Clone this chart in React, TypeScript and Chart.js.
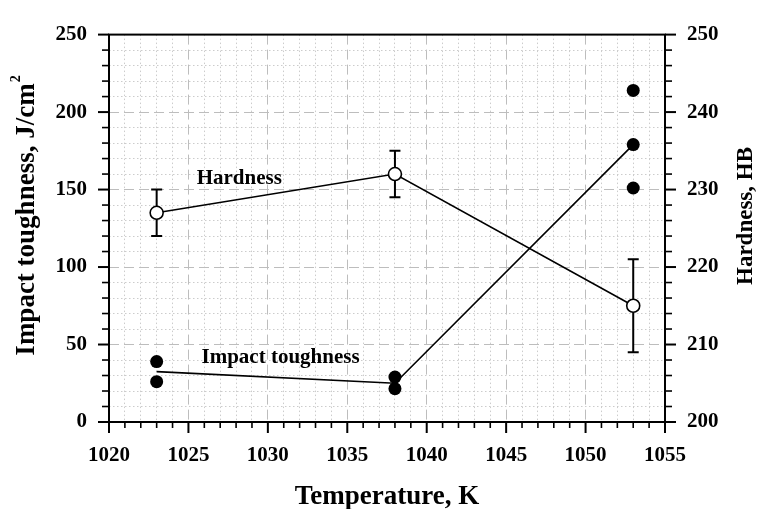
import React, { useEffect, useRef } from 'react';
import { Chart, registerables } from 'chart.js';
Chart.register(...registerables);

// ---- data ----
const temperatures = [1023, 1038, 1053];
const hardnessMean = [227, 232, 215];
const hardnessErr = [3, 3, 6];
const toughnessMean = [32.5, 25, 179];
const sampleTemps = [1023, 1023, 1038, 1038, 1053, 1053, 1053];
const sampleToughness = [39, 26, 29, 21.5, 214, 179, 151];
const xTickLabels = [1020, 1025, 1030, 1035, 1040, 1045, 1050, 1055];
const yTickLabels = [0, 50, 100, 150, 200, 250];
const y2TickLabels = [200, 210, 220, 230, 240, 250];

const SERIF = '"Liberation Serif", "Times New Roman", serif';
const GRID_COLOR = '#bdbdbd';
const MINOR_COLOR = '#cccccc';

const decorPlugin = {
  id: 'decor',
  beforeDatasetsDraw(chart: any) {
    const { ctx, scales } = chart;
    const x = scales.x, y2 = scales.y2;
    ctx.save();
    ctx.strokeStyle = '#000';
    ctx.lineWidth = 2;
    temperatures.forEach((t, i) => {
      const px = x.getPixelForValue(t);
      const top = y2.getPixelForValue(hardnessMean[i] + hardnessErr[i]);
      const bot = y2.getPixelForValue(hardnessMean[i] - hardnessErr[i]);
      ctx.beginPath();
      ctx.moveTo(px, top); ctx.lineTo(px, bot);
      ctx.moveTo(px - 5.5, top); ctx.lineTo(px + 5.5, top);
      ctx.moveTo(px - 5.5, bot); ctx.lineTo(px + 5.5, bot);
      ctx.stroke();
    });
    ctx.restore();
  },
  afterDraw(chart: any) {
    const { ctx, chartArea, scales } = chart;
    const { left, right, top, bottom } = chartArea;
    const x = scales.x, y = scales.y, y2 = scales.y2;
    ctx.save();
    ctx.strokeStyle = '#000';
    // frame
    ctx.lineWidth = 2;
    ctx.strokeRect(left, top, right - left, bottom - top);
    // x ticks
    for (let v = 1020; v <= 1055; v += 1) {
      const major = v % 5 === 0;
      const px = x.getPixelForValue(v);
      ctx.lineWidth = major ? 2 : 1.6;
      ctx.beginPath();
      ctx.moveTo(px, bottom);
      ctx.lineTo(px, bottom + (major ? 11 : 6));
      ctx.stroke();
    }
    // left y ticks
    for (let v = 0; v <= 250; v += 10) {
      const major = v % 50 === 0;
      const py = y.getPixelForValue(v);
      ctx.lineWidth = major ? 2 : 1.6;
      ctx.beginPath();
      ctx.moveTo(left, py);
      ctx.lineTo(left - (major ? 11 : 7), py);
      ctx.stroke();
    }
    // right y ticks
    for (let v = 200; v <= 250; v += 2) {
      const major = v % 10 === 0;
      const py = y2.getPixelForValue(v);
      ctx.lineWidth = major ? 2 : 1.6;
      ctx.beginPath();
      ctx.moveTo(right, py);
      ctx.lineTo(right + (major ? 11 : 7), py);
      ctx.stroke();
    }
    ctx.fillStyle = '#000';
    ctx.textBaseline = 'middle';
    // right axis title (reads bottom-to-top)
    ctx.save();
    ctx.font = `bold 23px ${SERIF}`;
    ctx.textAlign = 'center';
    ctx.translate(746, 216);
    ctx.rotate(-Math.PI / 2);
    ctx.fillText('Hardness, HB', 0, 0);
    ctx.restore();
    // left axis title with superscript
    ctx.save();
    ctx.translate(27, 215);
    ctx.rotate(-Math.PI / 2);
    const main = 'Impact toughness, J/cm';
    ctx.font = `bold 27px ${SERIF}`;
    const wMain = ctx.measureText(main).width;
    ctx.font = `bold 14px ${SERIF}`;
    const wSup = ctx.measureText('2').width;
    const start = -(wMain + wSup + 2) / 2;
    ctx.textAlign = 'left';
    ctx.font = `bold 27px ${SERIF}`;
    ctx.fillText(main, start, 0);
    ctx.font = `bold 14px ${SERIF}`;
    ctx.fillText('2', start + wMain + 1, -11);
    ctx.restore();
    ctx.restore();
  },
  afterDatasetsDraw(chart: any) {
    const { ctx, scales } = chart;
    const x = scales.x, y = scales.y;
    ctx.save();
    ctx.fillStyle = '#000';
    ctx.font = `bold 21px ${SERIF}`;
    ctx.textAlign = 'center';
    ctx.textBaseline = 'middle';
    ctx.fillText('Hardness', x.getPixelForValue(1028.2), y.getPixelForValue(157));
    ctx.fillText('Impact toughness', x.getPixelForValue(1030.8), y.getPixelForValue(41.5));
    ctx.restore();
  },
};

export default function App() {
  const ref = useRef<HTMLCanvasElement>(null);
  useEffect(() => {
    document.body.style.margin = '0';
    const canvas = ref.current!;
    const tickFont = { family: SERIF, weight: 'bold' as const, size: 21 };
    const chart = new Chart(canvas, {
      type: 'scatter',
      data: {
        datasets: [
          {
            label: 'Hardness',
            data: temperatures.map((t, i) => ({ x: t, y: hardnessMean[i] })),
            yAxisID: 'y2',
            showLine: true,
            borderColor: '#000',
            borderWidth: 1.6,
            pointRadius: 6.5,
            pointBackgroundColor: '#fff',
            pointBorderColor: '#000',
            pointBorderWidth: 1.6,
            order: 1,
          },
          {
            label: 'Impact toughness mean',
            data: temperatures.map((t, i) => ({ x: t, y: toughnessMean[i] })),
            yAxisID: 'y',
            showLine: true,
            borderColor: '#000',
            borderWidth: 1.6,
            pointRadius: 0,
            order: 3,
          },
          {
            label: 'Impact toughness',
            data: sampleTemps.map((t, i) => ({ x: t, y: sampleToughness[i] })),
            yAxisID: 'y',
            showLine: false,
            pointRadius: 6.5,
            pointBackgroundColor: '#000',
            pointBorderColor: '#000',
            pointBorderWidth: 0,
            order: 2,
          },
        ],
      },
      options: {
        responsive: false,
        animation: false,
        layout: { padding: { top: 24, left: 0, right: 0, bottom: 0 } },
        plugins: { legend: { display: false }, tooltip: { enabled: false } },
        scales: {
          x: {
            type: 'linear',
            min: 1020,
            max: 1055,
            afterFit: (s: any) => { s.height = 87; },
            ticks: {
              stepSize: 1,
              autoSkip: false,
              maxRotation: 0,
              padding: 21,
              color: '#000',
              font: tickFont,
              callback: (v: any) => (xTickLabels.includes(v) ? String(v) : ''),
            },
            grid: {
              drawTicks: false,
              lineWidth: 1,
              color: (c: any) => (c.tick && c.tick.value % 5 === 0 ? GRID_COLOR : MINOR_COLOR),
            },
            border: {
              display: false,
              dash: (c: any) => (c.tick ? (c.tick.value % 5 === 0 ? [10, 5] : [1.5, 2.5]) : []),
            },
            title: {
              display: true,
              text: 'Temperature, K',
              color: '#000',
              font: { family: SERIF, weight: 'bold', size: 27 },
              padding: { top: 0, bottom: -4 },
            },
          },
          y: {
            type: 'linear',
            position: 'left',
            min: 0,
            max: 250,
            afterFit: (s: any) => { s.width = 109; },
            ticks: {
              stepSize: 10,
              autoSkip: false,
              padding: 22,
              color: '#000',
              font: tickFont,
              callback: (v: any) => (yTickLabels.includes(v) ? String(v) : ''),
            },
            grid: {
              drawTicks: false,
              lineWidth: 1,
              color: (c: any) => (c.tick && c.tick.value % 50 === 0 ? GRID_COLOR : MINOR_COLOR),
            },
            border: {
              display: false,
              dash: (c: any) => (c.tick ? (c.tick.value % 50 === 0 ? [10, 5] : [1.5, 2.5]) : []),
            },
          },
          y2: {
            type: 'linear',
            position: 'right',
            min: 200,
            max: 250,
            afterFit: (s: any) => { s.width = 93; },
            ticks: {
              stepSize: 2,
              autoSkip: false,
              padding: 22,
              color: '#000',
              font: tickFont,
              callback: (v: any) => (y2TickLabels.includes(v) ? String(v) : ''),
            },
            grid: { drawTicks: false, drawOnChartArea: false },
            border: { display: false },
          },
        },
      },
      plugins: [decorPlugin],
    });
    return () => chart.destroy();
  }, []);
  return (
    <div style={{ width: 758, height: 509, background: '#fff' }}>
      <canvas ref={ref} width={758} height={509} />
    </div>
  );
}
